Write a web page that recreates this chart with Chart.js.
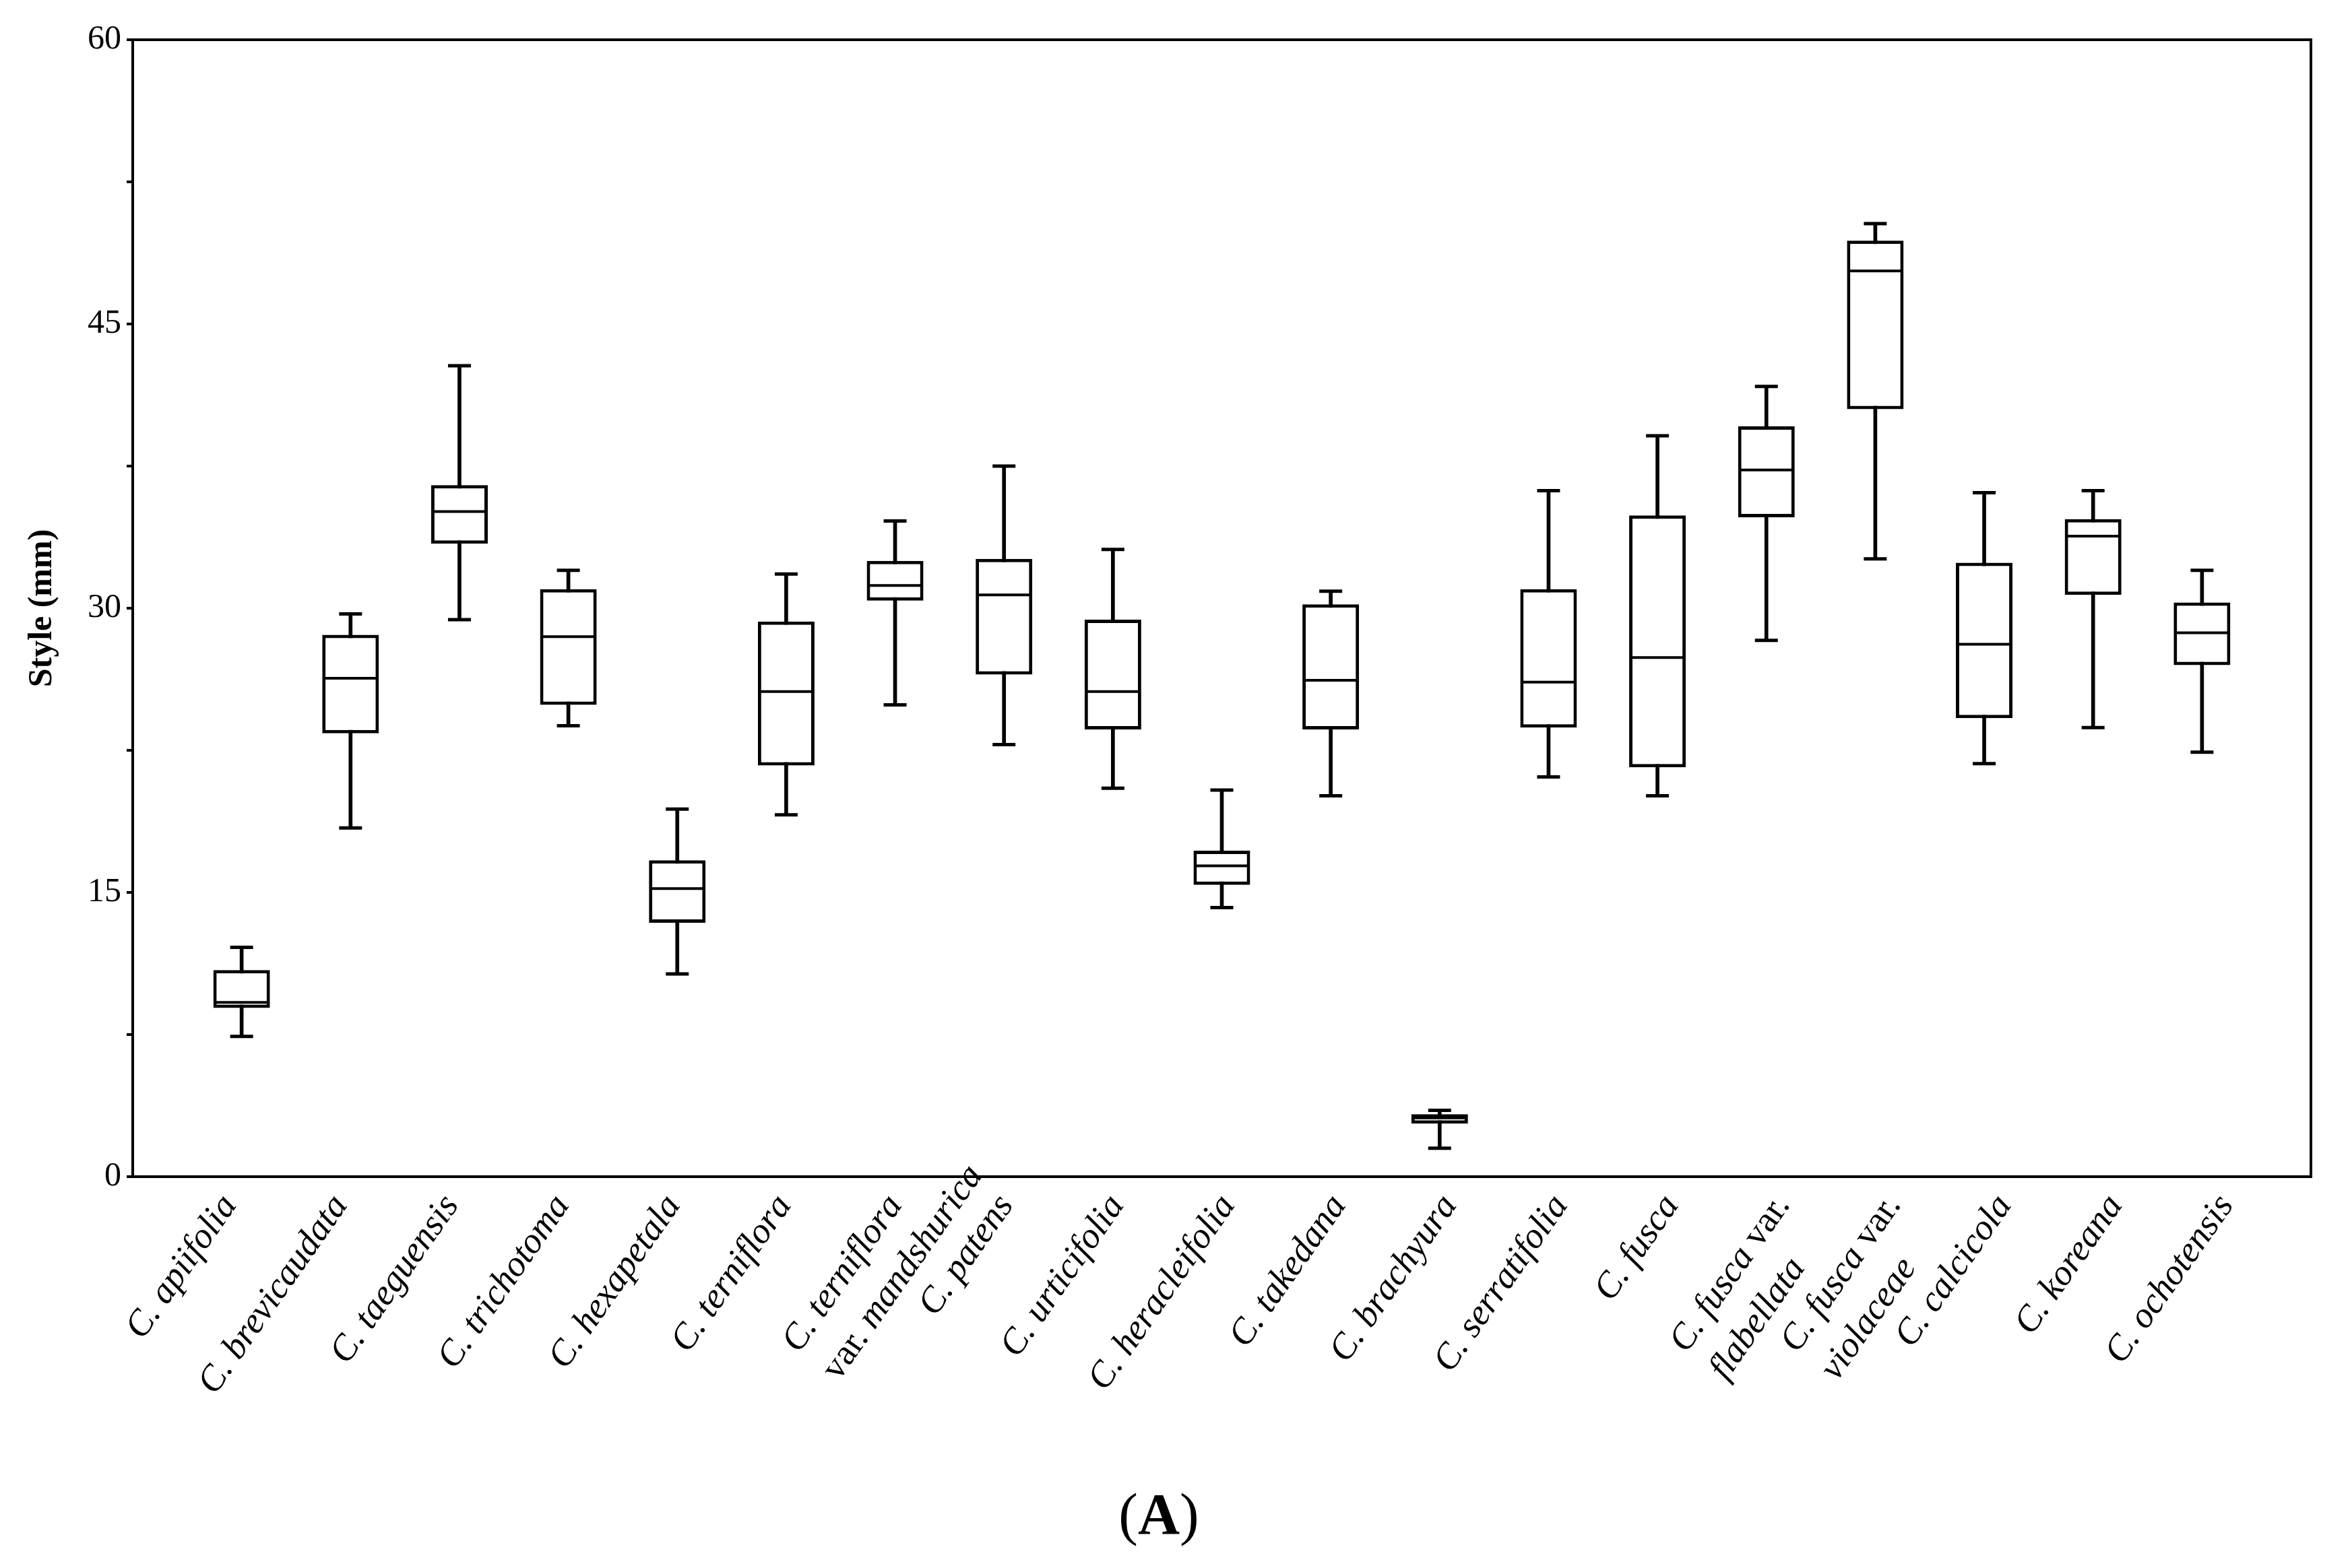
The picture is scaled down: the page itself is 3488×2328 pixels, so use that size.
<!DOCTYPE html>
<html>
<head>
<meta charset="utf-8">
<title>Style (mm)</title>
<script src="https://cdn.jsdelivr.net/npm/chart.js@4.4.1/dist/chart.umd.min.js"></script>
<style>
    html, body { margin: 0; padding: 0; background: #ffffff; }
    #wrap { position: relative; width: 3488px; height: 2328px; }
    #styleChart { position: absolute; left: 0; top: 0; }
    #caption {
        position: absolute; left: 0; top: 2205px; width: 3440px;
        text-align: center; font: 86px/86px 'Liberation Serif', 'Times New Roman', serif; color: #000;
    }
</style>
</head>
<body>
<div id="wrap">
    <canvas id="styleChart" width="3488" height="2328"></canvas>
    <div id="caption">(<b>A</b>)</div>
</div>
<script>
// ==========================================
// DATA
// ==========================================

const species = [
    'C. apiifolia', 'C. brevicaudata', 'C. taeguensis', 'C. trichotoma', 'C. hexapetala',
    'C. terniflora', 'C. terniflora\nvar. mandshurica', 'C. patens', 'C. urticifolia',
    'C. heracleifolia', 'C. takedana', 'C. brachyura', 'C. serratifolia', 'C. fusca',
    'C. fusca var.\nflabellata', 'C. fusca var.\nviolaceae', 'C. calcicola', 'C. koreana',
    'C. ochotensis'
];

const whiskerLow  = [7.4, 18.4, 29.4, 23.8, 10.7, 19.1, 24.9, 22.8, 20.5, 14.2, 20.1, 1.5, 21.1, 20.1, 28.3, 32.6, 21.8, 23.7, 22.4];
const quartile1   = [8.9, 23.4, 33.4, 24.9, 13.4, 21.7, 30.4, 26.5, 23.6, 15.4, 23.6, 2.8, 23.7, 21.6, 34.8, 40.5, 24.2, 30.7, 27.0];
const medianVals  = [9.2, 26.3, 35.1, 28.5, 15.2, 25.6, 31.2, 30.7, 25.6, 16.4, 26.2, 3.1, 26.1, 27.4, 37.3, 47.8, 28.1, 33.8, 28.7];
const quartile3   = [10.9, 28.6, 36.5, 31.0, 16.7, 29.3, 32.5, 32.6, 29.4, 17.2, 30.2, 3.3, 31.0, 34.9, 39.6, 49.4, 32.4, 34.7, 30.3];
const whiskerHigh = [12.1, 29.7, 42.8, 32.0, 19.4, 31.8, 34.6, 37.5, 33.1, 20.4, 30.9, 3.5, 36.2, 39.1, 41.7, 50.3, 36.1, 36.2, 32.0];

const yTicks = [0, 15, 30, 45, 60];

// empty slot at each end, as in the original axis
const labels = ['', ...species, ''];
const pad = (arr) => [null, ...arr, null];
const range = (a, b) => pad(a.map((v, i) => [v, b[i]]));

const SERIF = "'Liberation Serif', 'Times New Roman', serif";

// ==========================================
// PLUGINS
// ==========================================

// full frame round the plot area
const frame = {
    id: 'frame',
    afterDraw(chart) {
        const { ctx, chartArea: a } = chart;
        ctx.save();
        ctx.strokeStyle = '#000';
        ctx.lineWidth = 4;
        ctx.strokeRect(a.left, a.top, a.right - a.left, a.bottom - a.top);
        ctx.restore();
    }
};

// rotated species names, lines left aligned, "var." upright
const wordFont = (w) => (w === 'var.' ? '' : 'italic ') + '54px ' + SERIF;

const measureLine = (ctx, line) => {
    let w = 0;
    line.split(' ').forEach((word, k) => {
        ctx.font = wordFont(word);
        w += ctx.measureText(word).width;
        if (k > 0) { ctx.font = 'italic 54px ' + SERIF; w += ctx.measureText(' ').width; }
    });
    return w;
};

const drawLine = (ctx, line, x, y) => {
    line.split(' ').forEach((word, k) => {
        if (k > 0) { ctx.font = 'italic 54px ' + SERIF; x += ctx.measureText(' ').width; }
        ctx.font = wordFont(word);
        ctx.fillText(word, x, y);
        x += ctx.measureText(word).width;
    });
};

const speciesLabels = {
    id: 'speciesLabels',
    afterDraw(chart) {
        const { ctx, chartArea } = chart;
        const xScale = chart.scales.x;
        ctx.save();
        ctx.fillStyle = '#000';
        ctx.textAlign = 'left';
        ctx.textBaseline = 'alphabetic';
        species.forEach((name, i) => {
            const lines = name.split('\n');
            // labels in the original drift slightly right of their boxes
            const px = xScale.getPixelForValue(i + 1) - 6 + i * 3;
            ctx.save();
            ctx.translate(px, chartArea.bottom + 42);
            ctx.rotate(-55 * Math.PI / 180);
            const first = measureLine(ctx, lines[0]);
            lines.forEach((line, k) => drawLine(ctx, line, -first, k * 72));
            ctx.restore();
        });
        ctx.restore();
    }
};

// ==========================================
// CHART
// ==========================================

const ctx = document.getElementById('styleChart').getContext('2d');

new Chart(ctx, {
    type: 'bar',
    data: {
        labels: labels,
        datasets: [
            {
                // caps
                type: 'line',
                data: pad(whiskerHigh),
                showLine: false,
                pointStyle: 'line',
                pointRadius: 17,
                pointBorderWidth: 5,
                pointBorderColor: '#000',
                order: 0
            },
            {
                type: 'line',
                data: pad(whiskerLow),
                showLine: false,
                pointStyle: 'line',
                pointRadius: 17,
                pointBorderWidth: 5,
                pointBorderColor: '#000',
                order: 0
            },
            {
                // median
                type: 'line',
                data: pad(medianVals),
                showLine: false,
                pointStyle: 'line',
                pointRadius: 41,
                pointBorderWidth: 4,
                pointBorderColor: '#000',
                order: 1
            },
            {
                // box
                data: range(quartile1, quartile3),
                backgroundColor: '#ffffff',
                borderColor: '#000',
                borderWidth: 5,
                borderSkipped: false,
                grouped: false,
                barPercentage: 0.52,
                categoryPercentage: 1,
                order: 2
            },
            {
                // whisker
                data: range(whiskerLow, whiskerHigh),
                backgroundColor: '#000',
                borderWidth: 0,
                grouped: false,
                barThickness: 5,
                order: 3
            }
        ]
    },
    options: {
        responsive: false,
        devicePixelRatio: 1,
        animation: false,
        events: [],
        layout: {
            padding: { left: 0, top: 59, right: 58, bottom: 0 }
        },
        plugins: {
            legend: { display: false },
            tooltip: { enabled: false }
        },
        scales: {
            x: {
                type: 'category',
                offset: false,
                grid: { display: false },
                border: { display: true, color: '#000', width: 4 },
                ticks: { display: false },
                afterFit: (scale) => { scale.height = 581; }
            },
            y: {
                min: 0,
                max: 60,
                grid: {
                    drawOnChartArea: false,
                    drawTicks: true,
                    tickLength: 9,
                    color: '#000',
                    lineWidth: 4
                },
                border: { display: true, color: '#000', width: 4 },
                ticks: {
                    stepSize: 7.5,
                    padding: 8,
                    color: '#000',
                    font: { family: SERIF, size: 50 },
                    callback: (v) => (yTicks.includes(v) ? v : '')
                },
                title: {
                    display: true,
                    text: 'Style (mm)',
                    color: '#000',
                    font: { family: SERIF, size: 50, weight: 'bold' },
                    padding: { top: 33, bottom: 0 }
                },
                afterFit: (scale) => { scale.width = 197; }
            }
        }
    },
    plugins: [frame, speciesLabels]
});
</script>
</body>
</html>
